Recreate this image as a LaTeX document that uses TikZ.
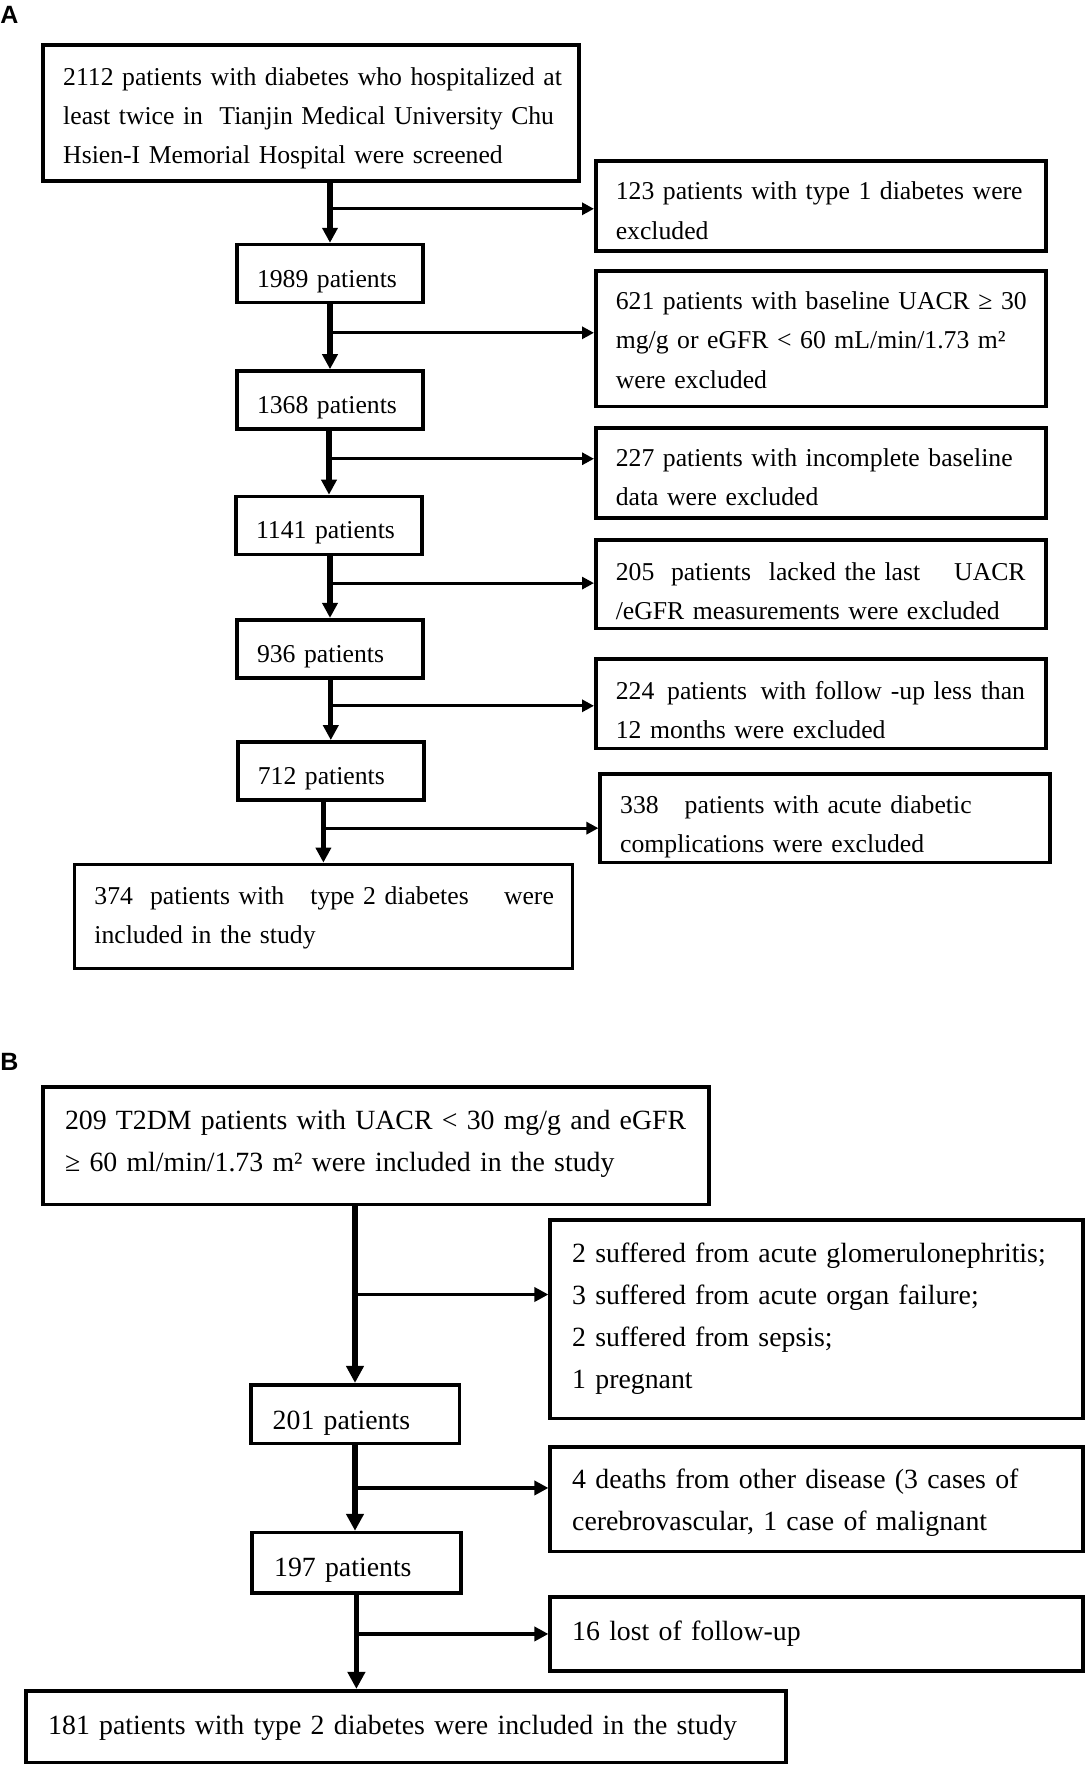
\documentclass[tikz,border=0pt]{standalone}
\usepackage{fontspec}
\setmainfont{Liberation Serif}
\setsansfont{Liberation Sans}
\usepackage{tikz}
\usetikzlibrary{arrows.meta, calc}
% lines of a box, lowered by #1 inside the box
\newcommand{\boxtext}[2][0pt]{\raisebox{#1}[\height][\depth]{\begin{tabular}{@{}l@{}}#2\end{tabular}}}
\tikzset{
  box/.style={draw, line width=1.8pt, inner xsep=10pt, inner ysep=0pt, align=left, font=\fontsize{12.85}{19.6}\selectfont},
  smallbox/.style={box, text width=73pt, minimum height=29pt},
  exclbox/.style={box, text width=205pt},
  boxB/.style={box, inner xsep=11pt, font=\fontsize{13.9}{21.1}\selectfont},
  trunk/.style={line width=2.6pt, -{Triangle[length=7.5pt,width=7.5pt]}},
  side/.style={line width=1.6pt, -{Triangle[length=6pt,width=6pt]}},
  trunkB/.style={line width=2.8pt, -{Triangle[length=8.5pt,width=8.5pt]}},
  sideB/.style={line width=1.8pt, -{Triangle[length=7pt,width=7pt]}},
  panel/.style={font=\sffamily\bfseries\fontsize{12.5}{15}\selectfont, inner sep=0pt, anchor=base west}
}

\begin{document}
\begin{tikzpicture}[x=0.5pt, y=-0.5pt]
\useasboundingbox (0,0) rectangle (1088,1766);

% panel A
\node[panel] (labA) at (0,24) {A};
\node[box, text width=247.8pt, minimum height=68pt] (a0) at (311,113) {\boxtext[-1.7pt]{2112 patients with diabetes who hospitalized at\\least twice in\hspace{8.2pt}Tianjin Medical University Chu\\Hsien-I Memorial Hospital were screened}};
\node[smallbox] (a1) at (330,273.6) {\boxtext[-2.8pt]{1989 patients}};
\node[smallbox] (a2) at (330,400) {\boxtext[-2.8pt]{1368 patients}};
\node[smallbox] (a3) at (329,525.5) {\boxtext[-2.8pt]{1141 patients}};
\node[smallbox] (a4) at (330,648.7) {\boxtext[-2.8pt]{936 patients}};
\node[smallbox] (a5) at (330.8,770.9) {\boxtext[-2.8pt]{712 patients}};
\node[box, text width=229pt, minimum height=52pt] (a6) at (323.4,916.4) {\boxtext{374\hspace{8.6pt}patients with\hspace{13pt}type 2 diabetes\hspace{17.6pt}were\\included in the study}};

% exclusions A
\node[exclbox, minimum height=45pt] (e1) at (820.8,206) {\boxtext[-2.8pt]{123 patients with type 1 diabetes were\\excluded}};
\node[exclbox, minimum height=67.8pt] (e2) at (820.8,338.8) {\boxtext[-1.1pt]{621 patients with baseline UACR ≥ 30\\mg/g or eGFR < 60 mL/min/1.73 m²\\were excluded}};
\node[exclbox, minimum height=45pt] (e3) at (820.8,472.7) {\boxtext[-2.8pt]{227 patients with incomplete baseline\\data were excluded}};
\node[exclbox, minimum height=44.3pt] (e4) at (820.8,584.2) {\boxtext[-3.9pt]{205\hspace{8.4pt}patients\hspace{8.9pt}lacked the last\hspace{17pt}UACR\\/eGFR measurements were excluded}};
\node[exclbox, minimum height=44.6pt] (e5) at (820.8,703.7) {\boxtext[-3.6pt]{224\hspace{6.4pt}patients\hspace{6.7pt}with follow\hspace{4.5pt}-up less than\\12 months were excluded}};
\node[exclbox, minimum height=44.3pt] (e6) at (825.2,818.2) {\boxtext[-3.4pt]{338\hspace{13pt}patients with acute diabetic\\complications were excluded}};

\foreach \up/\dn/\ex in {a0/a1/e1, a1/a2/e2, a2/a3/e3, a3/a4/e4, a4/a5/e5, a5/a6/e6}{
  \coordinate (s\ex) at (\up.south -| \dn.north);
  \draw[trunk] (s\ex) -- (\dn.north);
  \coordinate (j\ex) at ($(s\ex)!.5!(\dn.north) + (0,-4)$);
  \draw[side] (j\ex) -- (j\ex -| \ex.west);
}

% panel B
\node[panel] (labB) at (0,1070) {B};
\node[boxB, text width=311pt, minimum height=58.8pt] (b0) at (376,1145.5) {\boxtext[1.7pt]{209 T2DM patients with UACR < 30 mg/g and eGFR\\≥ 60 ml/min/1.73 m² were included in the study}};
\node[boxB, text width=82.3pt, minimum height=29.3pt] (b1) at (355,1414) {\boxtext[-3.4pt]{201 patients}};
\node[boxB, text width=82.3pt, minimum height=30.3pt] (b2) at (356.4,1562.9) {\boxtext[-2.8pt]{197 patients}};
\node[boxB, text width=358pt, minimum height=35.8pt] (b3) at (406.2,1726.5) {\boxtext{181 patients with type 2 diabetes were included in the study}};

\node[boxB, text width=244.3pt, minimum height=99.2pt] (c1) at (816.5,1319.2) {\boxtext[1.1pt]{2 suffered from acute glomerulonephritis;\\3 suffered from acute organ failure;\\2 suffered from sepsis;\\1 pregnant}};
\node[boxB, text width=244.3pt, minimum height=52.3pt] (c2) at (816.5,1499) {\boxtext[-1.1pt]{4 deaths from other disease (3 cases of\\cerebrovascular, 1 case of malignant}};
\node[boxB, text width=244.3pt, minimum height=37.2pt] (c3) at (816.5,1633.9) {\boxtext[1.1pt]{16 lost of follow-up}};

\coordinate (t1) at (b0.south -| b1.north);
\coordinate (t2) at (b1.south);
\coordinate (t3) at (b2.south);
\draw[trunkB] (t1) -- (b1.north);
\draw[trunkB] (t2) -- (t2 |- b2.north);
\draw[trunkB] (t3) -- (t3 |- b3.north);
\coordinate (k1) at ($(t1)!.5!(b1.north)$);
\coordinate (k2) at ($(t2)!.5!(t2 |- b2.north)$);
\coordinate (k3) at ($(t3)!.5!(t3 |- b3.north) + (0,-8)$);
\draw[sideB] (k1) -- (k1 -| c1.west);
\draw[sideB] (k2) -- (k2 -| c2.west);
\draw[sideB] (k3) -- (k3 -| c3.west);
\end{tikzpicture}
\end{document}
